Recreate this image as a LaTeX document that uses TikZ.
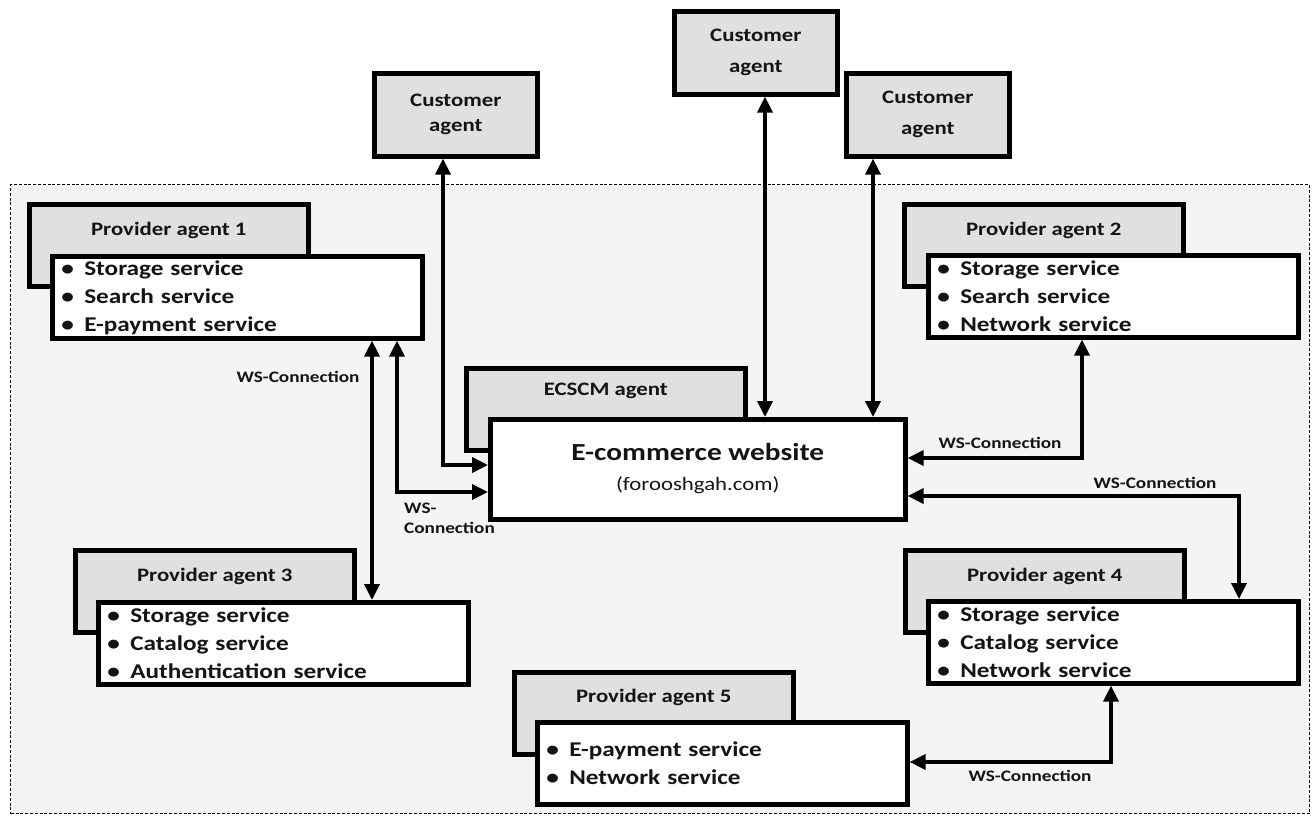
\documentclass[tikz,border=0pt]{standalone}
\usepackage{fontspec}
\setmainfont{Carlito}[FakeStretch=1.2]
\usetikzlibrary{arrows.meta,calc,shadows}

\definecolor{panelfill}{HTML}{F4F4F4}
\definecolor{agentfill}{HTML}{E0E0E0}
\definecolor{inktext}{HTML}{141414}

\newcommand{\bul}{\makebox[23pt][l]{\textbullet}}

\begin{document}
\begin{tikzpicture}[x=1pt,y=-1pt,
  softshadow/.style={drop shadow={shadow xshift=1.5pt,shadow yshift=-1.5pt,opacity=0.25,fill=black!60}},
  agentbox/.style={draw=black,line width=4.6pt,fill=agentfill,inner sep=0pt,anchor=north west,
    minimum width=279pt,minimum height=82pt,softshadow},
  custbox/.style={draw=black,line width=4.6pt,fill=agentfill,inner sep=0pt,anchor=north west,
    minimum width=163pt,minimum height=83pt,align=center,text=inktext,softshadow},
  listbox/.style={draw=black,line width=4.6pt,fill=white,inner xsep=8pt,inner ysep=0pt,anchor=north west,
    minimum width=370pt,minimum height=82pt,text width=352pt,align=left,text=inktext,
    font=\fontsize{21}{28}\selectfont\bfseries,softshadow},
  webbox/.style={draw=black,line width=4.6pt,fill=white,inner sep=0pt,anchor=north west,
    minimum width=415pt,minimum height=100pt,softshadow},
  title/.style={text=inktext,font=\fontsize{19}{24}\selectfont\bfseries,inner sep=0pt},
  custtext/.style={font=\fontsize{19}{31}\selectfont\bfseries},
  wslabel/.style={text=inktext,font=\fontsize{16}{20}\selectfont\bfseries,inner sep=0pt},
  biarrow/.style={line width=3.6pt,{Triangle[length=16pt,width=15pt]}-{Triangle[length=16pt,width=15pt]}},
  framebox/.style={draw=black,dash pattern=on 3pt off 1.8pt,line width=1.4pt,fill=panelfill,
    inner sep=0pt,anchor=north west,minimum width=1299pt,minimum height=629pt}
]
\useasboundingbox (0,0) rectangle (1312,817);

% system boundary
\node[framebox] (frame) at (10,184) {};

% customer agents outside the boundary
\node[custbox,custtext,font=\fontsize{19}{25}\selectfont\bfseries] (cust1) at (372,71) {Customer\\agent};
\node[custbox,custtext] (cust2) at (672,9) {Customer\\agent};
\node[custbox,custtext] (cust3) at (844,71) {Customer\\agent};

% provider agent 1
\node[agentbox] (p1g) at (27,202) {};
\node[title] at ([yshift=-28pt]p1g.north) {Provider agent 1};
\node[listbox] (p1l) at (50,254) {\bul Storage service\\\bul Search service\\\bul E-payment service};

% provider agent 2
\node[agentbox] (p2g) at (902,202) {};
\node[title] at ([yshift=-28pt]p2g.north) {Provider agent 2};
\node[listbox] (p2l) at (926,253) {\bul Storage service\\\bul Search service\\\bul Network service};

% ECSCM agent and the website
\node[agentbox] (ecg) at (464,366) {};
\node[title] at ([yshift=-25pt]ecg.north) {ECSCM agent};
\node[webbox] (web) at (488,417) {};
\node[text=inktext,font=\fontsize{24.5}{30}\selectfont\bfseries,inner sep=0pt] (webname) at ([yshift=-35pt]web.north) {E-commerce website};
\node[text=inktext,font=\fontsize{19}{24}\selectfont,inner sep=0pt] (weburl) at ([yshift=-68pt]web.north) {(forooshgah.com)};

% provider agent 3
\node[agentbox] (p3g) at (73,548) {};
\node[title] at ([yshift=-28pt]p3g.north) {Provider agent 3};
\node[listbox] (p3l) at (96,600) {\bul Storage service\\\bul Catalog service\\\bul Authentication service};

% provider agent 4
\node[agentbox] (p4g) at (903,548) {};
\node[title] at ([yshift=-28pt]p4g.north) {Provider agent 4};
\node[listbox] (p4l) at (926,599) {\bul Storage service\\\bul Catalog service\\\bul Network service};

% provider agent 5
\node[agentbox] (p5g) at (512,670) {};
\node[title] at ([yshift=-27pt]p5g.north) {Provider agent 5};
\node[listbox] (p5l) at (535,720) {\bul E-payment service\\\bul Network service};

% customer connections
\draw[biarrow] ([xshift=71pt]cust1.south west) |- ([yshift=-48pt]web.north west);
\draw[biarrow] ([xshift=93pt]cust2.south west) coordinate (c2) -- (c2 |- web.north);
\draw[biarrow] ([xshift=29pt]cust3.south west) coordinate (c3) -- (c3 |- web.north);

% web-service connections
\draw[biarrow] ([xshift=322pt]p1l.south west) coordinate (w1) -- (w1 |- p3l.north);
\draw[biarrow] ([xshift=347pt]p1l.south west) |- ([yshift=-75pt]web.north west);
\draw[biarrow] ([yshift=-41pt]web.north east) -| ([xshift=156pt]p2l.south west);
\draw[biarrow] ([yshift=-79pt]web.north east) -| ([xshift=313pt]p4l.north west);
\draw[biarrow] ([yshift=-42pt]p5l.north east) -| ([xshift=185pt]p4l.south west);

% connection labels
\node[wslabel] (ws1) at (298,377) {WS-Connection};
\node[wslabel,align=left,anchor=west,font=\fontsize{16}{20}\selectfont\bfseries] (ws2) at (404,518) {WS-\\Connection};
\node[wslabel] (ws3) at (1000,443) {WS-Connection};
\node[wslabel] (ws4) at (1155,483) {WS-Connection};
\node[wslabel] (ws5) at (1030,776) {WS-Connection};
\end{tikzpicture}
\end{document}
